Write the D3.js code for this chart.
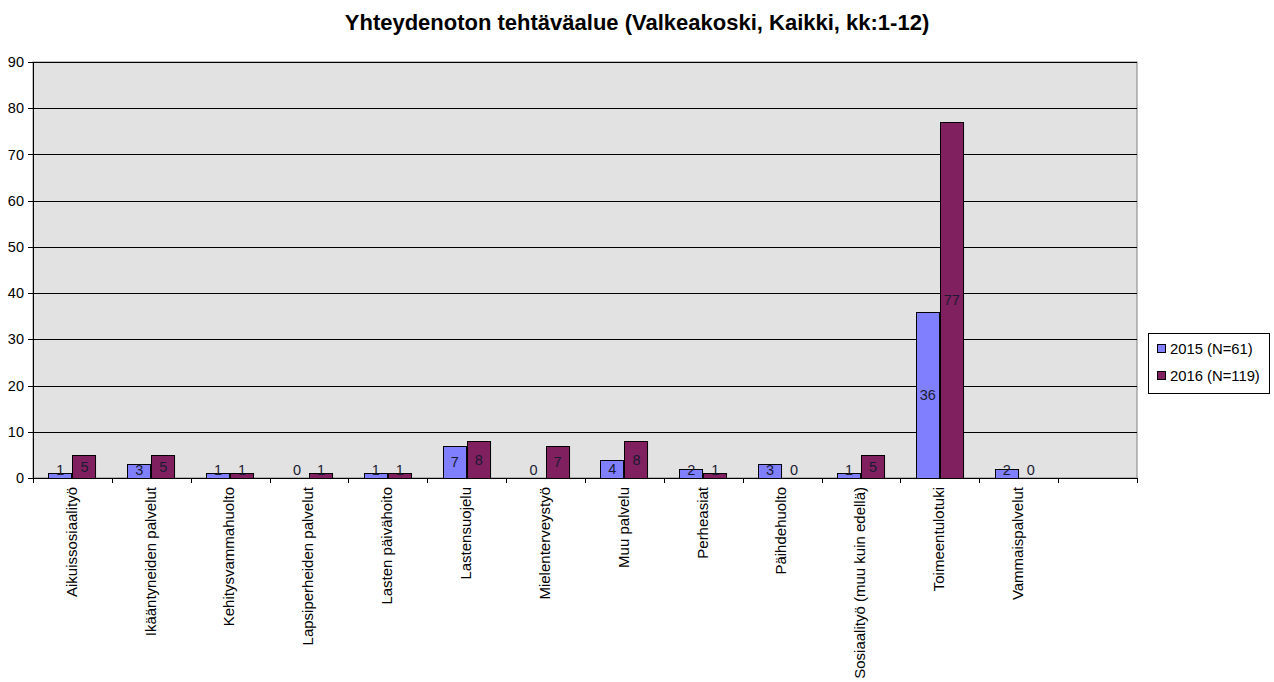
<!DOCTYPE html>
<html><head><meta charset="utf-8">
<script src="https://cdn.jsdelivr.net/npm/d3@7"></script>
<style>body{margin:0;background:#fff;font-family:"Liberation Sans",Arial,sans-serif;}</style>
</head><body><svg id="c" width="1274" height="682"></svg>
<script>
const categories = ["Aikuissosiaalityö","Ikääntyneiden palvelut","Kehitysvammahuolto","Lapsiperheiden palvelut","Lasten päivähoito","Lastensuojelu","Mielenterveystyö","Muu palvelu","Perheasiat","Päihdehuolto","Sosiaalityö (muu kuin edellä)","Toimeentulotuki","Vammaispalvelut",""];
const series = ["2015 (N=61)","2016 (N=119)"];
const values2015 = [1,3,1,0,1,7,0,4,2,3,1,36,2];
const values2016 = [5,5,1,1,1,8,7,8,1,0,5,77,0];
const yTicks = [0,10,20,30,40,50,60,70,80,90];
const colors = ["#8080FF","#80205F"];
const title = "Yhteydenoton tehtäväalue (Valkeakoski, Kaikki, kk:1-12)";

const svg = d3.select("#c");
const L=33, R=1137, T=62, B=478;
const keys = categories.map((c,i)=>i);
const x = d3.scaleBand().domain(keys).range([L,R]).padding(0);
const x1 = d3.scaleBand().domain([0,1]).range([0,x.bandwidth()]).paddingInner(0).paddingOuter(0.64);
const y = d3.scaleLinear().domain([0,90]).range([B,T]);

svg.append("text").attr("x",637).attr("y",30).attr("text-anchor","middle")
  .attr("font-size","22px").attr("font-weight","bold").attr("fill","#000").text(title);

svg.append("rect").attr("x",L).attr("y",T).attr("width",R-L).attr("height",B-T)
  .attr("fill","#E2E2E2").attr("stroke","#808080");

// gridlines
svg.append("g").selectAll("line").data(yTicks).join("line")
  .attr("x1",L-5).attr("x2",R).attr("y1",d=>Math.round(y(d))+0.5).attr("y2",d=>Math.round(y(d))+0.5)
  .attr("stroke","#000").attr("stroke-width",1).attr("shape-rendering","crispEdges");
svg.append("g").selectAll("text").data(yTicks).join("text")
  .attr("x",24).attr("y",d=>y(d)).attr("dy","0.35em").attr("text-anchor","end")
  .attr("font-size","14.5px").attr("fill","#000").text(d=>d);

// bars
const data = [];
categories.forEach((c,i)=>{
  if(i<values2015.length){
    data.push({i,s:0,v:values2015[i]});
    data.push({i,s:1,v:values2016[i]});
  }
});
svg.append("g").selectAll("rect").data(data.filter(d=>d.v>0)).join("rect")
  .attr("x",d=>Math.round(x(d.i)+x1(d.s))+0.5).attr("y",d=>Math.round(y(d.v))+0.5)
  .attr("width",x1.bandwidth()-1).attr("height",d=>Math.round(B-y(d.v)))
  .attr("fill",d=>colors[d.s]).attr("stroke","#000").attr("stroke-width",1);

// axis lines
svg.append("line").attr("x1",L+0.5).attr("x2",L+0.5).attr("y1",T).attr("y2",B+5).attr("stroke","#000");
svg.append("line").attr("x1",L).attr("x2",R).attr("y1",B+0.5).attr("y2",B+0.5).attr("stroke","#000");
const ticks = keys.map(k=>x(k)).concat([R]);
svg.append("g").selectAll("line").data(ticks).join("line")
  .attr("x1",d=>Math.round(d)+0.5).attr("x2",d=>Math.round(d)+0.5).attr("y1",B).attr("y2",B+5).attr("stroke","#000");

// value labels
svg.append("g").selectAll("text").data(data).join("text")
  .attr("x",d=>x(d.i)+x1(d.s)+x1.bandwidth()/2)
  .attr("y",d=>Math.min((y(d.v)+B)/2, B-8))
  .attr("dy","0.36em").attr("text-anchor","middle").attr("font-size","14.5px").attr("fill","#1a1a33")
  .text(d=>d.v);

// category labels
svg.append("g").selectAll("text").data(keys).join("text")
  .attr("transform",k=>`translate(${x(k)+x.bandwidth()/2-1},487) rotate(-90)`)
  .attr("dy","0.35em").attr("text-anchor","end").attr("font-size","15px").attr("fill","#000")
  .text(k=>categories[k]);

// legend
const lg = svg.append("g");
lg.append("rect").attr("x",1148.5).attr("y",333.5).attr("width",121).attr("height",60)
  .attr("fill","#fff").attr("stroke","#000");
series.forEach((s,i)=>{
  lg.append("rect").attr("x",1157.5).attr("y",344.5+i*27).attr("width",8).attr("height",8)
    .attr("fill",colors[i]).attr("stroke","#000");
  lg.append("text").attr("x",1170).attr("y",349+i*27).attr("dy","0.36em")
    .attr("font-size","14.8px").attr("fill","#000").text(s);
});
</script></body></html>
